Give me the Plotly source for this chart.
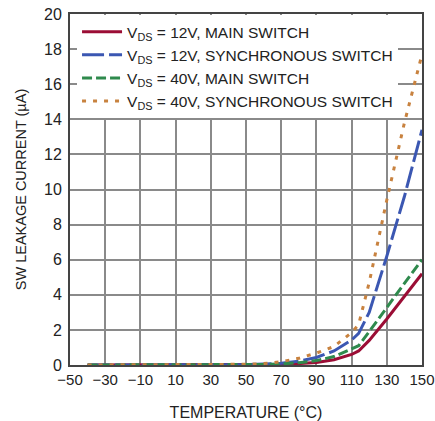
import plotly.graph_objects as go

temp_c = [-40, -20, 0, 20, 40, 50, 60, 70, 80, 90, 100, 110, 114, 120, 130, 140, 150]
main_12v = [0, 0, 0, 0, 0, 0.01, 0.02, 0.04, 0.08, 0.14, 0.3, 0.6, 0.8, 1.4, 2.62, 3.9, 5.2]
sync_12v = [0, 0, 0, 0, 0.01, 0.02, 0.05, 0.1, 0.22, 0.43, 0.8, 1.42, 1.8, 3.0, 6.2, 9.6, 13.4]
main_40v = [0, 0, 0, 0, 0.01, 0.02, 0.03, 0.06, 0.13, 0.25, 0.48, 0.92, 1.1, 1.9, 3.3, 4.65, 6.0]
sync_40v = [0, 0, 0, 0, 0.02, 0.04, 0.08, 0.19, 0.38, 0.68, 1.05, 1.85, 2.3, 4.7, 9.4, 13.8, 17.7]

x_ticks = [-50, -30, -10, 10, 30, 50, 70, 90, 110, 130, 150]
x_tick_text = ["\u221250", "\u221230", "\u221210", "10", "30", "50", "70", "90", "110", "130", "150"]
y_ticks = [0, 2, 4, 6, 8, 10, 12, 14, 16, 18, 20]

names = [
    "V<sub>DS</sub> = 12V, MAIN SWITCH",
    "V<sub>DS</sub> = 12V, SYNCHRONOUS SWITCH",
    "V<sub>DS</sub> = 40V, MAIN SWITCH",
    "V<sub>DS</sub> = 40V, SYNCHRONOUS SWITCH",
]

FONT = "Liberation Sans, Arial, sans-serif"

fig = go.Figure()
series = [main_12v, sync_12v, main_40v, sync_40v]
colors = ["#9b0d35", "#3b57b2", "#2f8a4d", "#c8823f"]
dashes = ["solid", "22px,5px", "10px,4px", "4px,7px"]
for ys, nm, col, ds in zip(series, names, colors, dashes):
    fig.add_trace(go.Scatter(x=temp_c, y=ys, name=nm, mode="lines",
                             line=dict(color=col, width=3, dash=ds)))

fig.update_layout(
    template="none",
    width=435, height=421,
    margin=dict(l=70, r=13, t=14, b=56),
    paper_bgcolor="white", plot_bgcolor="white",
    font=dict(family=FONT, size=15, color="#222"),
    showlegend=True,
    legend=dict(x=0.02, y=0.997, xanchor="left", yanchor="top",
                bgcolor="white", borderwidth=0, font=dict(size=15.5, color="#222"),
                itemwidth=40, tracegroupgap=0),
)
fig.update_xaxes(range=[-50, 150], tickvals=x_ticks, ticktext=x_tick_text,
                 automargin=False,
                 showgrid=True, gridcolor="#8a8a8a", gridwidth=1.5,
                 showline=True, linecolor="#444", linewidth=2, mirror=True,
                 ticks="", zeroline=False, tickfont=dict(size=15),
                 title=dict(text="TEMPERATURE (°C)", font=dict(size=16), standoff=20))
fig.update_yaxes(range=[0, 20], tickvals=y_ticks,
                 automargin=False,
                 showgrid=True, gridcolor="#8a8a8a", gridwidth=1.5,
                 showline=True, linecolor="#444", linewidth=2, mirror=True,
                 ticks="", zeroline=False, tickfont=dict(size=16), ticklabelstandoff=3,
                 title=dict(text="SW LEAKAGE CURRENT (µA)", font=dict(size=14.5), standoff=14))

fig.write_html("out.html", config={"displayModeBar": False},
               post_script="document.body.style.margin='0';")
